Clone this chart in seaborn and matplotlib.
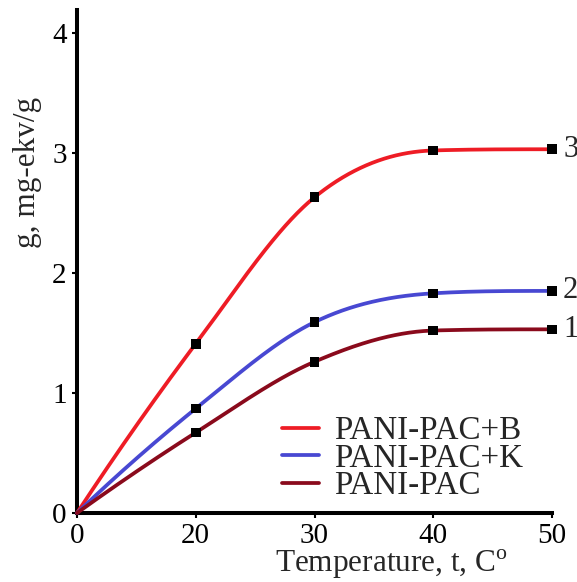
import numpy as np
import pandas as pd
import matplotlib
matplotlib.use("Agg")
import matplotlib.pyplot as plt
from matplotlib.lines import Line2D
import seaborn as sns

# ---- data ----
temperature = [0, 20, 30, 40, 50]
g_pani_pac_b = [0.0, 1.41, 2.63, 3.02, 3.03]
g_pani_pac_k = [0.0, 0.87, 1.59, 1.83, 1.85]
g_pani_pac = [0.0, 0.67, 1.26, 1.52, 1.53]
series_names = ["PANI-PAC+B", "PANI-PAC+K", "PANI-PAC"]
curve_labels = ["3", "2", "1"]
y_ticks = [0, 1, 2, 3, 4]

colors = ["#ee1c25", "#4848d2", "#8a0a1c"]


def smooth_curve(x, y, xs):
    """Smoothed line through the points (Catmull-Rom tangents, monotone-limited)."""
    x = np.asarray(x, float)
    y = np.asarray(y, float)
    n = len(x)
    h = np.diff(x)
    delta = np.diff(y) / h
    d = np.zeros(n)
    for k in range(1, n - 1):
        d[k] = (y[k + 1] - y[k - 1]) / (x[k + 1] - x[k - 1])
    d[0] = 2 * delta[0] - d[1]
    d[-1] = 2 * delta[-1] - d[-2]
    if np.sign(d[0]) != np.sign(delta[0]):
        d[0] = 0.0
    if np.sign(d[-1]) != np.sign(delta[-1]):
        d[-1] = 0.0
    for k in range(n - 1):
        if delta[k] == 0:
            d[k] = d[k + 1] = 0.0
            continue
        a = d[k] / delta[k]
        b = d[k + 1] / delta[k]
        s = a * a + b * b
        if s > 9:
            tau = 3 / np.sqrt(s)
            d[k] = tau * a * delta[k]
            d[k + 1] = tau * b * delta[k]
    xs = np.asarray(xs, float)
    idx = np.clip(np.searchsorted(x, xs) - 1, 0, n - 2)
    t = (xs - x[idx]) / h[idx]
    h00 = 2 * t**3 - 3 * t**2 + 1
    h10 = t**3 - 2 * t**2 + t
    h01 = -2 * t**3 + 3 * t**2
    h11 = t**3 - t**2
    return (h00 * y[idx] + h10 * h[idx] * d[idx]
            + h01 * y[idx + 1] + h11 * h[idx] * d[idx + 1])


sns.set_theme(style="white")
plt.rcParams["font.family"] = ["Liberation Serif", "DejaVu Serif"]
plt.rcParams["mathtext.fontset"] = "custom"
plt.rcParams["mathtext.rm"] = "Liberation Serif"

fig = plt.figure(figsize=(5.77, 5.82), dpi=100)
ax = fig.add_axes([77 / 577, 69 / 582, 475 / 577, 503 / 582])

pos = np.arange(len(temperature))  # equally spaced positions, as in the reference
dense = np.linspace(pos[0], pos[-1], 400)

all_series = [g_pani_pac_b, g_pani_pac_k, g_pani_pac]
for name, vals, col in zip(series_names, all_series, colors):
    df_line = pd.DataFrame({"x": dense, "y": smooth_curve(pos, vals, dense)})
    sns.lineplot(data=df_line, x="x", y="y", color=col, linewidth=2.7,
                 sort=False, ax=ax, clip_on=False, zorder=3)

for name, vals, lab in zip(series_names, all_series, curve_labels):
    df_pts = pd.DataFrame({"x": pos[1:], "y": vals[1:]})
    sns.scatterplot(data=df_pts, x="x", y="y", marker="s", s=48, color="black",
                    edgecolor="none", ax=ax, clip_on=False, zorder=5)
    ax.annotate(lab, xy=(pos[-1], vals[-1]), xytext=(8, 0),
                textcoords="offset points", va="center", ha="left",
                fontsize=22, annotation_clip=False)

ax.set_xlim(0, 4)
ax.set_ylim(0, 4.19)
ax.set_xticks(pos)
ax.set_xticklabels([str(t) for t in temperature])
ax.set_yticks(y_ticks)
ax.set_yticklabels([str(t) for t in y_ticks])

for side in ["top", "right"]:
    ax.spines[side].set_visible(False)
for side in ["left", "bottom"]:
    ax.spines[side].set_linewidth(2.9)
    ax.spines[side].set_color("black")

ax.tick_params(axis="both", direction="out", length=3.5, width=1.5,
               labelsize=21, pad=4, colors="black")
ax.tick_params(axis="both", left=True, bottom=True)

ax.set_xlabel(r"Temperature, t, C$^{\mathrm{o}}$", fontsize=22.5)
ax.xaxis.set_label_coords(0.661, -0.069)
ax.set_ylabel("g, mg-ekv/g", fontsize=22.5)
ax.yaxis.set_label_coords(-0.074, 0.678)

handles = [Line2D([0], [0], color=c, linewidth=2.7) for c in colors]
ax.legend(handles, series_names, loc="center left",
          bbox_to_anchor=(0.431, 0.108), frameon=False, fontsize=23.8,
          handlelength=1.13, handletextpad=0.45, labelspacing=-0.09,
          borderpad=0.0, borderaxespad=0.0)

fig.savefig("out.png", dpi=100)
